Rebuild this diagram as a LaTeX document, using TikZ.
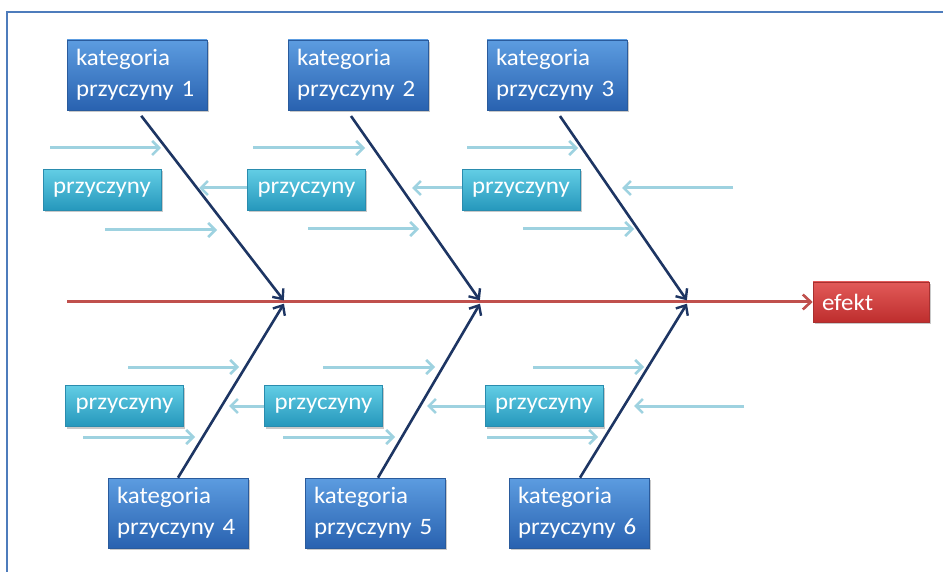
\documentclass[tikz,border=0pt]{standalone}
\usepackage{fontspec}
\setmainfont{Carlito}[FakeStretch=1.06]
\usetikzlibrary{arrows.meta,shadows}

\definecolor{framec}{HTML}{4E7CBC}
\definecolor{cattop}{HTML}{5C9CE0}
\definecolor{catbot}{HTML}{2962B0}
\definecolor{catedge}{HTML}{2A5B9C}
\definecolor{caustop}{HTML}{62CDE4}
\definecolor{causbot}{HTML}{2597BC}
\definecolor{causedge}{HTML}{2A8CAE}
\definecolor{efftop}{HTML}{E25A58}
\definecolor{effbot}{HTML}{BE2E2E}
\definecolor{effedge}{HTML}{A83030}
\definecolor{bonec}{HTML}{1D3563}
\definecolor{spinec}{HTML}{C0504D}
\definecolor{smallc}{HTML}{9ED2E0}

\tikzset{
  boxbase/.style={rectangle, text=white, inner sep=0pt,
    font=\fontsize{23.5}{31}\selectfont, line width=0.6pt,
    drop shadow={shadow xshift=1.5pt, shadow yshift=-2pt, opacity=0.35, fill=black!60}},
  catbox/.style={boxbase, minimum width=140pt, minimum height=70pt,
    top color=cattop, bottom color=catbot, draw=catedge,
    text width=122pt, align=left},
  causebox/.style={boxbase, minimum width=118pt, minimum height=41pt,
    top color=caustop, bottom color=causbot, draw=causedge, align=center},
  effectbox/.style={boxbase, minimum width=116pt, minimum height=40pt,
    top color=efftop, bottom color=effbot, draw=effedge,
    text width=98pt, align=left},
  bone/.style={draw=bonec, line width=2.6pt,
    -{Straight Barb[length=8pt,width=14pt,line width=2.4pt]}},
  spine/.style={draw=spinec, line width=3pt,
    -{Straight Barb[length=8pt,width=15pt,line width=2.6pt]}},
  cause/.style={draw=smallc, line width=3pt,
    -{Straight Barb[length=7pt,width=14pt,line width=2.6pt]}},
}

\begin{document}
\begin{tikzpicture}[x=1pt,y=-1pt]
  \useasboundingbox (0,0) rectangle (943,572);
  \fill[white] (0,0) rectangle (943,572);

  % slide frame
  \draw[framec, line width=2pt] (7,572) -- (7,12) -- (943,12);

  % category boxes
  \node[catbox] (k1) at (137,75)  {kategoria\\przyczyny 1};
  \node[catbox] (k2) at (358,75)  {kategoria\\przyczyny 2};
  \node[catbox] (k3) at (557,75)  {kategoria\\przyczyny 3};
  \node[catbox] (k4) at (178,513) {kategoria\\przyczyny 4};
  \node[catbox] (k5) at (375,513) {kategoria\\przyczyny 5};
  \node[catbox] (k6) at (579,513) {kategoria\\przyczyny 6};

  % effect box
  \node[effectbox] (ef) at (871,302) {efekt};

  % cause boxes
  \node[causebox] (p1) at (102,190)   {przyczyny};
  \node[causebox] (p2) at (306.5,190) {przyczyny};
  \node[causebox] (p3) at (521,190)   {przyczyny};
  \node[causebox] (p4) at (124.5,406) {przyczyny};
  \node[causebox] (p5) at (323.5,406) {przyczyny};
  \node[causebox] (p6) at (544,406)   {przyczyny};

  % spine and joints
  \coordinate (tail) at (67,302);
  \coordinate (j1) at (285,302);
  \coordinate (j2) at (481,302);
  \coordinate (j3) at (688,302);
  \draw[spine] (tail) -- (ef.west);

  % main bones
  \draw[bone, shorten <=7pt, shorten >=2pt] (k1.south) -- (j1);
  \draw[bone, shorten <=7pt, shorten >=2pt] ([xshift=-11pt]k2.south) -- (j2);
  \draw[bone, shorten <=7pt, shorten >=2pt] ([xshift=-1pt]k3.south) -- (j3);
  \draw[bone, shorten >=2pt] (k4.north) -- (j1);
  \draw[bone, shorten >=2pt] ([xshift=3pt]k5.north) -- (j2);
  \draw[bone, shorten >=2pt] ([xshift=1pt]k6.north) -- (j3);

  % minor causes, upper half
  \coordinate (a1s) at (50,148);  \coordinate (a1e) at (161,148);
  \coordinate (a2s) at (253,148); \coordinate (a2e) at (365,148);
  \coordinate (a3s) at (467,148); \coordinate (a3e) at (578,148);
  \coordinate (b1e) at (199,188); \coordinate (b2e) at (412,188);
  \coordinate (b3s) at (733,188); \coordinate (b3e) at (622,188);
  \coordinate (c1s) at (105,230); \coordinate (c1e) at (217,230);
  \coordinate (c2s) at (308,229); \coordinate (c2e) at (419,229);
  \coordinate (c3s) at (523,229); \coordinate (c3e) at (634,229);
  \draw[cause] (a1s) -- (a1e);
  \draw[cause] (a2s) -- (a2e);
  \draw[cause] (a3s) -- (a3e);
  \draw[cause] (p2.west |- b1e) -- (b1e);
  \draw[cause] (p3.west |- b2e) -- (b2e);
  \draw[cause] (b3s) -- (b3e);
  \draw[cause] (c1s) -- (c1e);
  \draw[cause] (c2s) -- (c2e);
  \draw[cause] (c3s) -- (c3e);

  % minor causes, lower half
  \coordinate (d1s) at (128,367); \coordinate (d1e) at (239,367);
  \coordinate (d2s) at (323,367); \coordinate (d2e) at (435,367);
  \coordinate (d3s) at (533,367); \coordinate (d3e) at (644,367);
  \coordinate (e1e) at (229,406); \coordinate (e2e) at (427,406);
  \coordinate (e3s) at (744,406); \coordinate (e3e) at (634,406);
  \coordinate (f1s) at (83,437);  \coordinate (f1e) at (195,437);
  \coordinate (f2s) at (283,437); \coordinate (f2e) at (395,437);
  \coordinate (f3s) at (487,437); \coordinate (f3e) at (598,437);
  \draw[cause] (d1s) -- (d1e);
  \draw[cause] (d2s) -- (d2e);
  \draw[cause] (d3s) -- (d3e);
  \draw[cause] (p5.west |- e1e) -- (e1e);
  \draw[cause] (p6.west |- e2e) -- (e2e);
  \draw[cause] (e3s) -- (e3e);
  \draw[cause] (f1s) -- (f1e);
  \draw[cause] (f2s) -- (f2e);
  \draw[cause] (f3s) -- (f3e);
\end{tikzpicture}
\end{document}
